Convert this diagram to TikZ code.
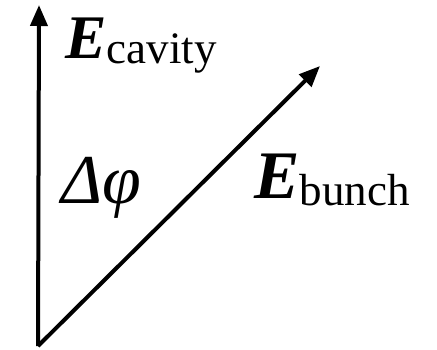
\documentclass[tikz,border=0pt]{standalone}
\usepackage{fontspec}
\setmainfont{Liberation Serif}
\usetikzlibrary{arrows.meta,positioning}

\begin{document}
\begin{tikzpicture}[x=1pt, y=-1pt,
    vec/.style={line width=4pt, -{Triangle[length=21pt,width=17pt]}},
    lbl/.style={inner sep=0pt, anchor=base west}
]
\useasboundingbox (0,0) rectangle (437,349);

\coordinate (origin) at (38,346);
\coordinate (cavtip) at (39,5);
\coordinate (bunchtip) at (320,66);

\draw [vec] (origin) -- (cavtip);
\draw [vec] (origin) -- (bunchtip);

\node [lbl] (ecavity) at (65,58) {\fontsize{62}{62}\selectfont\bfseries\itshape E\raisebox{-5pt}{\fontsize{45}{45}\selectfont\mdseries\upshape cavity}};
\node [lbl] (ebunch) at (254,198) {\fontsize{68}{68}\selectfont\bfseries\itshape E\raisebox{-7pt}{\fontsize{45}{45}\selectfont\mdseries\upshape bunch}};
\node [lbl] (dphi) at (61,203) {\fontsize{70}{70}\selectfont\itshape Δφ};

\end{tikzpicture}
\end{document}
